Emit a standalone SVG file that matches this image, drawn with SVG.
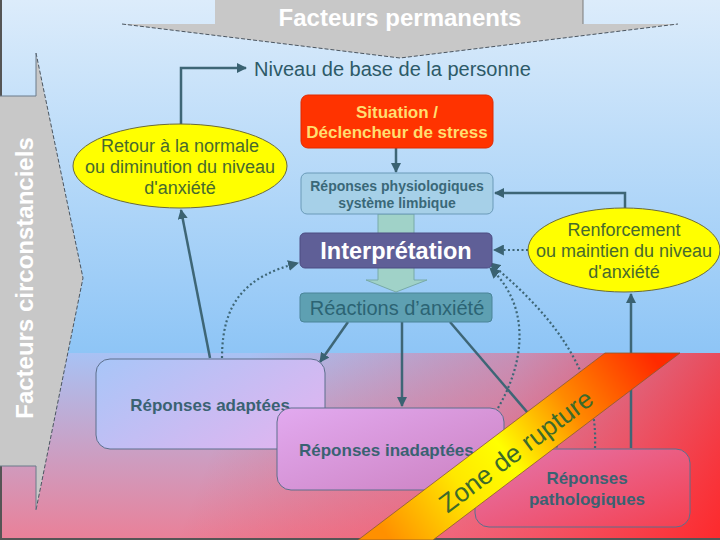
<svg xmlns="http://www.w3.org/2000/svg" width="720" height="540" viewBox="0 0 720 540">
<defs>
<linearGradient id="bgTop" x1="0" y1="0" x2="0" y2="353" gradientUnits="userSpaceOnUse">
<stop offset="0" stop-color="#dcecfb"/><stop offset="1" stop-color="#8ec5f6"/></linearGradient>
<linearGradient id="bgBot" x1="0" y1="353" x2="0" y2="540" gradientUnits="userSpaceOnUse">
<stop offset="0" stop-color="#a8c2f4"/><stop offset="1" stop-color="#ea8098"/></linearGradient>
<linearGradient id="bgRed" x1="250" y1="353" x2="720" y2="540" gradientUnits="userSpaceOnUse">
<stop offset="0" stop-color="#ff2020" stop-opacity="0"/><stop offset="0.5" stop-color="#ff3040" stop-opacity="0.35"/><stop offset="1" stop-color="#ff2020" stop-opacity="0.9"/></linearGradient>
<linearGradient id="gAd" x1="0" y1="0" x2="1" y2="0.6">
<stop offset="0" stop-color="#a8c6f8"/><stop offset="1" stop-color="#dcb6f0"/></linearGradient>
<linearGradient id="gIn" x1="0" y1="0" x2="1" y2="1">
<stop offset="0" stop-color="#e2aaf0"/><stop offset="1" stop-color="#cc80c0"/></linearGradient>
<linearGradient id="gPa" x1="0" y1="0" x2="1" y2="1">
<stop offset="0" stop-color="#e278b0"/><stop offset="1" stop-color="#f54050"/></linearGradient>
<linearGradient id="gBand" x1="650" y1="353" x2="390" y2="540" gradientUnits="userSpaceOnUse">
<stop offset="0" stop-color="#ff2a00"/><stop offset="0.3" stop-color="#ff8a00"/><stop offset="0.55" stop-color="#ffff00"/><stop offset="0.72" stop-color="#ffe800"/><stop offset="1" stop-color="#ff9000"/></linearGradient>
<marker id="ah" viewBox="0 0 10 10" refX="9" refY="5" markerWidth="4" markerHeight="4" orient="auto" markerUnits="strokeWidth">
<path d="M0,0 L10,5 L0,10 z" fill="#3a6272"/></marker>
<marker id="ahd" viewBox="0 0 10 10" refX="9" refY="5" markerWidth="5" markerHeight="5" orient="auto" markerUnits="strokeWidth">
<path d="M0,0 L10,5 L0,10 z" fill="#3a6272"/></marker>
<style>
.f{font-family:"Liberation Sans",Arial,sans-serif}
.b{font-weight:bold}
.c{text-anchor:middle}
.solid{fill:none;stroke:#3e6676;stroke-width:2.5;marker-end:url(#ah)}
.dot{fill:none;stroke:#3e6676;stroke-width:2.2;stroke-dasharray:2 2.5;marker-end:url(#ahd)}
.dash{fill:none;stroke:#4a5560;stroke-width:1;stroke-dasharray:4 2}
.ell{fill:#ffff00;stroke:#6a6a3a;stroke-width:1}
.low{stroke:#5c6f8c;stroke-width:1}
.et{font-size:18px;fill:#476a2e}
.lt{font-size:17px;fill:#3a6272}
</style>
</defs>

<g id="background">
<rect x="0" y="0" width="720" height="353" fill="url(#bgTop)"/>
<rect x="0" y="353" width="720" height="187" fill="url(#bgBot)"/>
<rect x="0" y="353" width="720" height="187" fill="url(#bgRed)"/>
<path d="M1,0 V539 H720" fill="none" stroke="#555" stroke-width="2"/>
</g>

<g id="facteurs-permanents">
<polygon points="215,0 583,0 583,24 678,24 400,58 122,24 215,24" fill="#c8c8c8"/>
<path d="M122,24 L400,58 L678,24" class="dash"/>
<path d="M583,0 V24" stroke="#7a7a7a" stroke-width="1"/>
<text x="400" y="26" class="f b c" font-size="24" fill="#ffffff">Facteurs permanents</text>
</g>

<g id="facteurs-circonstanciels">
<polygon points="0,96 36,96 36,53 83,278 36,510 36,466 0,466" fill="#c8c8c8"/>
<path d="M36,53 L83,278 L36,510" class="dash"/>
<path d="M0,96 H36 V53 M0,466 H36 V510" fill="none" stroke="#6a7a8a" stroke-width="1"/>
<text transform="translate(33,278) rotate(-90)" class="f b c" font-size="24" fill="#ffffff">Facteurs circonstanciels</text>
</g>

<g id="niveau-base">
<text x="254" y="76" class="f" font-size="20" fill="#2d5a68">Niveau de base de la personne</text>
</g>

<g id="fleche-bloc">
<path d="M378,214 V280 H366 L396,292 L427,280 H414 V214 Z" fill="#a0d2c8" stroke="#78aaa8" stroke-width="1"/>
</g>

<g id="connecteurs">
<path d="M181,125 V68 H246" class="solid"/>
<path d="M396,148 V172" class="solid" stroke-width="1.6"/>
<path d="M625,208 V193 H495" class="solid"/>
<path d="M528,250 H494" class="dot"/>
<path d="M631,448 V294" class="solid"/>
<path d="M348,322 L320,362" class="solid"/>
<path d="M402,322 V406" class="solid"/>
<path d="M450,322 L557,447" class="solid"/>
<path d="M210,358 L181,210" class="solid"/>
<path d="M222,358 C222,300 248,276 298,263" class="dot"/>
<path d="M498,408 C526,360 530,305 490,268" class="dot"/>
<path d="M595,448 C598,380 562,322 490,263" class="dot"/>
</g>

<g id="situation">
<rect x="301" y="95" width="192" height="53" rx="7" fill="#ff3300" stroke="#e02a00" stroke-width="1"/>
<text x="397" y="118" class="f b c" font-size="17" fill="#ffdf70">Situation /</text>
<text x="397" y="138" class="f b c" font-size="17" fill="#ffdf70">Déclencheur de stress</text>
</g>

<g id="reponses-physiologiques">
<rect x="301" y="173" width="192" height="41" rx="6" fill="#a6d0e8" stroke="#6a9ab8" stroke-width="1"/>
<text x="397" y="191" class="f b c" font-size="14" fill="#3a6878">Réponses physiologiques</text>
<text x="397" y="208" class="f b c" font-size="14" fill="#3a6878">système limbique</text>
</g>

<g id="interpretation">
<rect x="300" y="233" width="192" height="35" rx="5" fill="#5f5f97" stroke="#4c4c82" stroke-width="1"/>
<text x="396" y="259" class="f b c" font-size="23.5" fill="#ffffff">Interprétation</text>
</g>

<g id="reactions-anxiete">
<rect x="300" y="293" width="192" height="29" rx="4" fill="#5ea0b2" stroke="#4a8498" stroke-width="1"/>
<text x="397" y="315" class="f c" font-size="20" fill="#2c6474">Réactions d’anxiété</text>
</g>

<g id="retour-normale">
<ellipse cx="180" cy="166" rx="107" ry="42" class="ell"/>
<text x="180" y="152" class="f c et">Retour à la normale</text>
<text x="180" y="173" class="f c et">ou diminution du niveau</text>
<text x="180" y="194" class="f c et">d'anxiété</text>
</g>

<g id="renforcement">
<ellipse cx="624" cy="250" rx="96" ry="42" class="ell"/>
<text x="624" y="236" class="f c et">Renforcement</text>
<text x="624" y="257" class="f c et">ou maintien du niveau</text>
<text x="624" y="278" class="f c et">d'anxiété</text>
</g>

<g id="reponses-adaptees">
<rect x="96" y="359" width="229" height="90" rx="14" fill="url(#gAd)" class="low"/>
<text x="210" y="411" class="f b c lt">Réponses adaptées</text>
</g>

<g id="reponses-inadaptees">
<rect x="277" y="408" width="227" height="82" rx="14" fill="url(#gIn)" class="low"/>
<text x="299" y="456" class="f b lt">Réponses inadaptées</text>
</g>

<g id="reponses-pathologiques">
<rect x="475" y="449" width="215" height="78" rx="14" fill="url(#gPa)" class="low"/>
<text x="587" y="484" class="f b c lt">Réponses</text>
<text x="587" y="505" class="f b c lt">pathologiques</text>
</g>

<g id="zone-rupture">
<polygon points="605,353 680,353 433,540 358,540" fill="url(#gBand)" stroke="#8a5a30" stroke-width="0.8"/>
<text transform="translate(516,451) rotate(-37)" x="0" y="9" class="f c" font-size="26" fill="#3d6a2a">Zone de rupture</text>
</g>
</svg>
